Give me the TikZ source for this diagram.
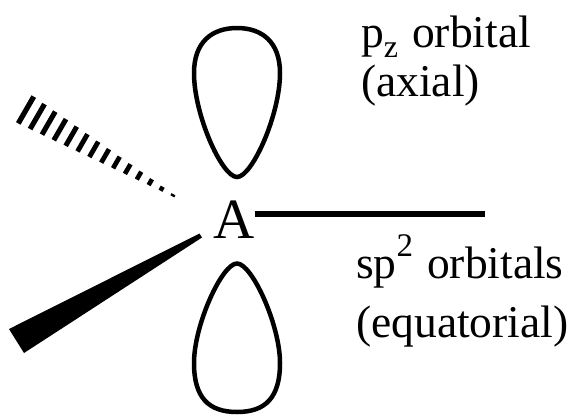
\documentclass[tikz,border=0pt]{standalone}
\usepackage{fontspec}
\setmainfont{Liberation Serif}
\usepackage{xcolor}
\usetikzlibrary{positioning,calc}
\newcommand{\subz}{\raisebox{-10pt}{\fontsize{32}{32}\selectfont z}\hspace{14pt}}
\newcommand{\suptwo}{\raisebox{22pt}{\fontsize{33}{33}\selectfont 2}\hspace{14pt}}
\begin{document}
\begin{tikzpicture}[
  x=1pt,y=-1pt,
  lobe/.style={draw=black,line width=4.5pt,fill=none},
  bond/.style={draw=black,line width=5.2pt},
  lbl/.style={font=\fontsize{45.5}{45.5}\selectfont,inner sep=0pt,anchor=base west},
  atom/.style={font=\fontsize{57}{57}\selectfont,inner sep=0pt,anchor=base}
]
\useasboundingbox (0,0) rectangle (570,416);
% centre atom and the labels
\node[atom] (atomA) at (234,238) {A};
\node[lbl] (pz) at (361,47) {p\subz orbital};
\node[lbl] (axial) at (361,96) {(axial)};
\node[lbl] (sp) at (356,278) {sp\suptwo orbitals};
\node[lbl] (equat) at (356,337) {(equatorial)};
% p orbital lobes
\draw[lobe] (237,177) .. controls (222,177) and (194,115) .. (194,73)
  .. controls (194,42) and (212,28) .. (237,28)
  .. controls (262,28) and (280,42) .. (280,73)
  .. controls (280,115) and (252,177) .. (237,177) -- cycle;
\draw[lobe] (237,263.5) .. controls (222,263.5) and (194,325) .. (194,363)
  .. controls (194,397) and (208,412) .. (237,412)
  .. controls (266,412) and (280,397) .. (280,363)
  .. controls (280,325) and (252,263.5) .. (237,263.5) -- cycle;
% in-plane bond
\coordinate (bondend) at (485,214);
\draw[bond] (atomA.east |- bondend) -- (bondend);
% wedge, front
\fill[black] (199.5,233.5) -- (202,237.5) -- (24,353) -- (9,329) -- cycle;
% hashes, back
\foreach \i in {0,...,13}{
  \pgfmathsetmacro{\mx}{26+11.3*\i}
  \pgfmathsetmacro{\my}{110+6.56*\i}
  \pgfmathsetmacro{\hl}{15.5-1.1*\i}
  \pgfmathsetmacro{\lw}{5.2-0.06*\i}
  \draw[line width=\lw pt] ($(\mx,\my)+(0.5*\hl,-0.866*\hl)$) -- ($(\mx,\my)+(-0.5*\hl,0.866*\hl)$);
}
\end{tikzpicture}
\end{document}
